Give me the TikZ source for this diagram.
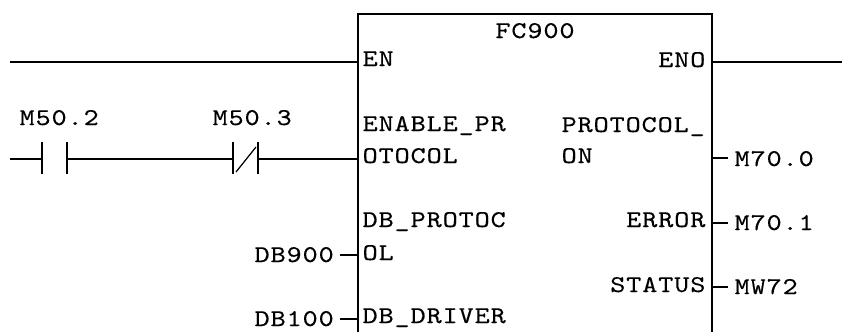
\documentclass[tikz,border=0pt]{standalone}
\usepackage{fontspec}
\newfontfamily\plcfont{lmmono10-regular.otf}[FakeStretch=1.2,LetterSpace=3.7,FakeBold=0.3]
\usetikzlibrary{positioning}

\begin{document}
\begin{tikzpicture}[x=1pt,y=-1pt,line width=1.2pt,
  every node/.style={inner sep=0pt,font=\plcfont\fontsize{24}{30}\selectfont}]
\useasboundingbox (0,0) rectangle (842,332);

% the FC block
\draw (358,332) -- (358,14) -- (712,14) -- (712,332);
\node[anchor=base] (fc) at (535,38){FC900};

% pins of the block
\coordinate (en) at (358,62);
\coordinate (eno) at (712,62);
\coordinate (enprot) at (358,159);
\coordinate (dbprot) at (358,255);
\coordinate (dbdrv) at (358,319);
\coordinate (proton) at (712,158);
\coordinate (err) at (712,223);
\coordinate (stat) at (712,287);

\node[anchor=base west] (lblen) at (362,66){EN};
\node[anchor=base east] (lbleno) at (706,67){ENO};
\node[anchor=base west] (lblenp) at (362,131){ENABLE\_PR};
\node[anchor=base west] (lblenp2) at (362,163){OTOCOL};
\node[anchor=base west] (lbldbp) at (362,227){DB\_PROTOC};
\node[anchor=base west] (lbldbp2) at (362,260){OL};
\node[anchor=base west] (lbldbd) at (362,323){DB\_DRIVER};
\node[anchor=base west] (lblpon) at (561,132){PROTOCOL\_};
\node[anchor=base west] (lblpon2) at (561,163){ON};
\node[anchor=base east] (lblerr) at (706,227){ERROR};
\node[anchor=base east] (lblstat) at (706,292){STATUS};

% enable rung
\coordinate (rail) at (10,62);
\coordinate (out) at (842,62);
\draw (rail) -- (en);
\draw (eno) -- (out);

% contacts
\coordinate (rail2) at (10,159);
\coordinate (c1a) at (42,159);
\coordinate (c1b) at (67,159);
\coordinate (c2a) at (233,159);
\coordinate (c2b) at (258,159);
\draw (rail2) -- (c1a);
\draw (c1b) -- (c2a);
\draw (c2b) -- (enprot);
\draw (c1a) ++(0,-17) -- ++(0,32);
\draw (c1b) ++(0,-17) -- ++(0,32);
\draw (c2a) ++(0,-17) -- ++(0,32);
\draw (c2b) ++(0,-17) -- ++(0,32);
\draw ([shift={(3,13)}]c2a) -- ([shift={(-2,-12)}]c2b);
\node[anchor=base west] (m502) at (19,125){M50.2};
\node[anchor=base west] (m503) at (212,125){M50.3};

% parameters
\draw (dbprot) -- ++(-18,0);
\draw (dbdrv) -- ++(-18,0);
\node[anchor=base west] (db900) at (254,262){DB900};
\node[anchor=base west] (db100) at (254,326){DB100};

\draw (proton) -- ++(16,0);
\draw (err) -- ++(16,0);
\draw (stat) -- ++(16,0);
\node[anchor=base west] (m700) at (734,166){M70.0};
\node[anchor=base west] (m701) at (734,230){M70.1};
\node[anchor=base west] (mw72) at (734,294){MW72};
\end{tikzpicture}
\end{document}
